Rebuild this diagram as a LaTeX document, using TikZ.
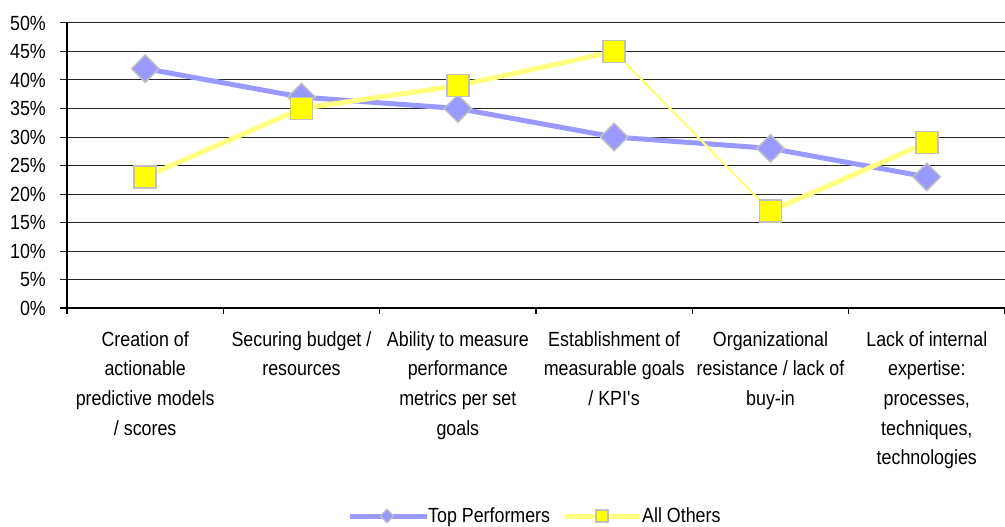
\documentclass[tikz,border=0pt]{standalone}
\usepackage{fontspec}
\setmainfont[FakeStretch=0.87]{Liberation Sans}
\usetikzlibrary{shapes.geometric}
\definecolor{tpblue}{HTML}{9999FF}
\definecolor{aoyellow}{HTML}{FFFF80}
\definecolor{mkyellow}{HTML}{FFFF00}
\definecolor{mkedge}{HTML}{C0C0C0}
\begin{document}
\begin{tikzpicture}[x=1pt,y=-1pt,
  font=\fontsize{20.5}{29.7}\selectfont,
  gridline/.style={draw=black!85, line width=1pt},
  axisline/.style={draw=black, line width=1.6pt},
  tpline/.style={draw=tpblue, line width=5pt, line join=round},
  aoline/.style={draw=aoyellow, line width=5pt, line join=round},
  aothin/.style={draw=aoyellow, line width=2.2pt},
  tpmark/.style={diamond, aspect=1, fill=tpblue, draw=mkedge, line width=1.5pt, minimum width=28pt, minimum height=28pt, inner sep=0pt},
  aomark/.style={rectangle, fill=mkyellow, draw=mkedge, line width=1.5pt, minimum width=22pt, minimum height=22pt, inner sep=0pt},
  tpkey/.style={diamond, aspect=1, fill=tpblue, draw=mkedge, line width=1.2pt, minimum width=14pt, minimum height=14pt, inner sep=0pt},
  aokey/.style={rectangle, fill=mkyellow, draw=mkedge, line width=1.2pt, minimum width=12pt, minimum height=12pt, inner sep=0pt},
  catlabel/.style={anchor=north, align=center, inner sep=0pt},
  ylab/.style={anchor=east, inner sep=0pt},
  keylab/.style={anchor=base west, inner sep=0pt}
]
\useasboundingbox (0,0) rectangle (1005,527);
% gridlines and y ticks
\foreach \v in {5,10,...,50}{
  \draw[gridline] (67,{308-\v*5.7}) -- (1005,{308-\v*5.7});
  \draw[gridline] (60,{308-\v*5.7}) -- (67,{308-\v*5.7});
}
\foreach \v [count=\i from 0] in {0,5,10,...,50}{
  \node[ylab] (yl\i) at (46,{308-\v*5.7}) {\v\%};
}
% axes
\draw[axisline] (67,23) -- (67,308);
\draw[axisline] (60,308) -- (1005,308);
\foreach \k in {0,...,6}{
  \draw[axisline, line width=1.2pt] ({67+\k*156.33},308) -- ({67+\k*156.33},314);
}
% data coordinates
\foreach \v [count=\i] in {42,37,35,30,28,23}{
  \coordinate (t\i) at ({67+(\i-0.5)*156.33},{308-\v*5.7});
}
\foreach \v [count=\i] in {23,35,39,45,17,29}{
  \coordinate (a\i) at ({67+(\i-0.5)*156.33},{308-\v*5.7});
}
% Top Performers series
\draw[tpline] (t1) -- (t2) -- (t3) -- (t4) -- (t5) -- (t6);
\foreach \i in {1,...,6}{ \node[tpmark] (tm\i) at (t\i) {}; }
% All Others series
\draw[aoline] (a1) -- (a2) -- (a3) -- (a4);
\draw[aothin] (a4) -- (a5);
\draw[aoline] (a5) -- (a6);
\foreach \i in {1,...,6}{ \node[aomark] (am\i) at (a\i) {}; }
% category labels
\node[catlabel] (c1) at ({67+0.5*156.33},331) {Creation of\\actionable\\predictive models\\/ scores};
\node[catlabel] (c2) at ({67+1.5*156.33},331) {Securing budget /\\resources};
\node[catlabel] (c3) at ({67+2.5*156.33},331) {Ability to measure\\performance\\metrics per set\\goals};
\node[catlabel] (c4) at ({67+3.5*156.33},331) {Establishment of\\measurable goals\\/ KPI\textquotesingle s};
\node[catlabel] (c5) at ({67+4.5*156.33},331) {Organizational\\resistance / lack of\\buy-in};
\node[catlabel] (c6) at ({67+5.5*156.33},331) {Lack of internal\\expertise:\\processes,\\techniques,\\technologies};
% legend
\coordinate (k1a) at (350,516);
\coordinate (k1b) at (427,516);
\coordinate (k2a) at (565,516);
\coordinate (k2b) at (640,516);
\draw[tpline] (k1a) -- (k1b);
\node[tpkey] (k1m) at (387,516) {};
\node[keylab] (k1t) at (428,522.5) {Top Performers};
\draw[aoline] (k2a) -- (k2b);
\node[aokey] (k2m) at (602,516) {};
\node[keylab] (k2t) at (642,522.5) {All Others};
\end{tikzpicture}
\end{document}
